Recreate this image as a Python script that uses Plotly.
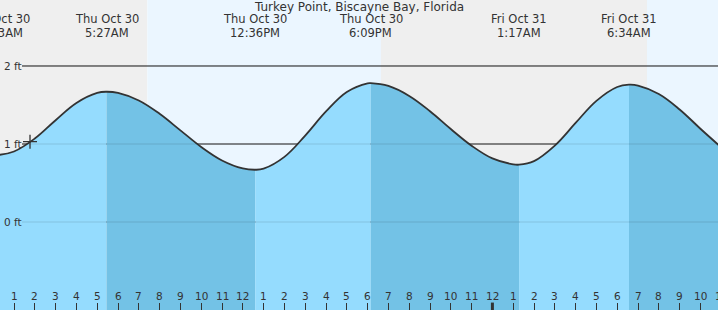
import plotly.graph_objects as go

# ---- data (hours since Thu Oct 30 00:00, height in ft) ----
tide_hours = [0, 0.22, 1, 2, 3, 4, 5, 5.45, 6, 7, 8, 9, 10, 11, 12, 12.6,
              13, 14, 15, 16, 17, 18, 18.15, 19, 20, 21, 22, 23, 24, 25, 25.283,
              26, 27, 28, 29, 30, 30.567, 31, 32, 33, 34, 35]
tide_ft = [0.864, 0.86, 0.904, 1.070, 1.305, 1.526, 1.655, 1.67, 1.655, 1.558,
           1.387, 1.175, 0.962, 0.789, 0.687, 0.67, 0.684, 0.835, 1.108, 1.417,
           1.667, 1.778, 1.78, 1.744, 1.616, 1.420, 1.192, 0.978, 0.815, 0.739,
           0.735, 0.781, 0.980, 1.270, 1.553, 1.731, 1.76, 1.749, 1.641, 1.443,
           1.196, 0.958]

extreme_hours = [0.22, 5.45, 12.6, 18.15, 25.283, 30.567]
extreme_dates = ["Thu Oct 30", "Thu Oct 30", "Thu Oct 30", "Thu Oct 30",
                 "Fri Oct 31", "Fri Oct 31"]
extreme_times = ["12:13AM", "5:27AM", "12:36PM", "6:09PM", "1:17AM", "6:34AM"]

sunrise_hours = [7.41, 31.43]
sunset_hours = [18.64]

tick_hours = list(range(1, 36))
tick_labels = [str((h - 1) % 12 + 1) for h in tick_hours]
midnight_hours = [24]

level_ft = [2, 1, 0]
level_labels = ["2 ft", "1 ft", "0 ft"]

now_hour = [1.77]
now_ft = [1.03]

title = "Turkey Point, Biscayne Bay, Florida"

# ---- styling ----
X_RANGE = [0.327, 34.846]
Y_RANGE = [-1.128, 2.846]
W, H = 718, 310
PX_PER_H = W / (X_RANGE[1] - X_RANGE[0])
FONT = "DejaVu Sans"
TXT = "#333333"
LIGHT = "#95dcfe"
DARK = "#73c2e6"
NIGHT = "#efefef"
DAY = "#ebf6ff"

fig = go.Figure()

# fills under the curve, split at extremes
bounds = [tide_hours[0]] + extreme_hours[1:] + [tide_hours[-1]]
for i in range(len(bounds) - 1):
    a, b = bounds[i], bounds[i + 1]
    xs = [h for h in tide_hours if a <= h <= b]
    ys = [v for h, v in zip(tide_hours, tide_ft) if a <= h <= b]
    fig.add_trace(go.Scatter(x=[a, b], y=[Y_RANGE[0] - 0.2] * 2, mode="lines",
                             line=dict(width=0), hoverinfo="skip", showlegend=False))
    fig.add_trace(go.Scatter(x=xs, y=ys, mode="lines", fill="tonexty",
                             fillcolor=LIGHT if i % 2 == 0 else DARK,
                             line=dict(width=0, shape="spline", smoothing=1.1),
                             hoverinfo="skip", showlegend=False))

# curve
fig.add_trace(go.Scatter(x=tide_hours, y=tide_ft, mode="lines",
                         line=dict(color="#333333", width=1.8, shape="spline",
                                   smoothing=1.1),
                         hoverinfo="skip", showlegend=False))

# current time marker
fig.add_trace(go.Scatter(x=now_hour, y=now_ft, mode="markers",
                         marker=dict(symbol="cross-thin", size=10,
                                     line=dict(color="#333333", width=1.3)),
                         hoverinfo="skip", showlegend=False))


def clamp_x(h):
    c = min(max(h, X_RANGE[0]), X_RANGE[1])
    return c, (h - c) * PX_PER_H


annotations = [dict(text=title, xref="paper", yref="paper", x=0.5, y=1 - 7.5 / H,
                    xanchor="center", yanchor="middle", showarrow=False,
                    font=dict(family=FONT, size=12, color=TXT))]
# top labels at extremes (two rows)
for h, d, t in zip(extreme_hours, extreme_dates, extreme_times):
    cx, sh = clamp_x(h)
    for txt, ypx in ((d, 19.5), (t, 32.5)):
        annotations.append(dict(text=txt, xref="x", yref="paper", x=cx, xshift=sh,
                                y=1 - ypx / H, xanchor="center", yanchor="middle",
                                showarrow=False,
                                font=dict(family=FONT, size=11.5, color=TXT)))
# hour labels
for h, lab in zip(tick_hours, tick_labels):
    cx, sh = clamp_x(h)
    annotations.append(dict(text=lab, xref="x", yref="paper", x=cx, xshift=sh,
                            y=1 - 296 / H, xanchor="center", yanchor="middle",
                            showarrow=False,
                            font=dict(family=FONT, size=10.5, color=TXT)))
# level labels
for lv, lab in zip(level_ft, level_labels):
    annotations.append(dict(text=lab, xref="paper", yref="y", x=0, y=lv, xshift=2,
                            xanchor="left", yanchor="middle", showarrow=False,
                            font=dict(family=FONT, size=10.5, color=TXT)))

shapes = []
# day / night backgrounds
edges = [X_RANGE[0] - 2] + sorted(sunrise_hours + sunset_hours) + [X_RANGE[1] + 2]
for i in range(len(edges) - 1):
    shapes.append(dict(type="rect", xref="x", yref="paper", x0=edges[i], x1=edges[i + 1],
                       y0=0, y1=1, fillcolor=NIGHT if i % 2 == 0 else DAY,
                       line=dict(width=0), layer="below"))
# level lines
for lv in level_ft:
    shapes.append(dict(type="line", xref="x", yref="y", x0=1.385, x1=X_RANGE[1] + 2,
                       y0=lv, y1=lv, line=dict(color="#222222", width=1), layer="below"))
    shapes.append(dict(type="line", xref="x", yref="y", x0=1.385, x1=X_RANGE[1] + 2,
                       y0=lv, y1=lv, line=dict(color="rgba(0,0,0,0.12)", width=1),
                       layer="above"))
# thick midnight tick
for m in midnight_hours:
    shapes.append(dict(type="line", xref="x", yref="y", x0=m, x1=m,
                       y0=Y_RANGE[0], y1=Y_RANGE[0] + 0.095,
                       line=dict(color="#333333", width=3), layer="above"))

fig.update_layout(
    width=W, height=H, margin=dict(l=0, r=0, t=0, b=0, pad=0),
    paper_bgcolor="white", plot_bgcolor="rgba(0,0,0,0)",
    shapes=shapes, annotations=annotations, showlegend=False,
    xaxis=dict(range=X_RANGE, showgrid=False, zeroline=False, showline=False,
               ticks="inside", tickvals=tick_hours, ticklen=7, tickwidth=1,
               tickcolor="#333333", showticklabels=False, fixedrange=True),
    yaxis=dict(range=Y_RANGE, visible=False, showgrid=False, zeroline=False,
               fixedrange=True),
)

fig.write_html("out.html")
